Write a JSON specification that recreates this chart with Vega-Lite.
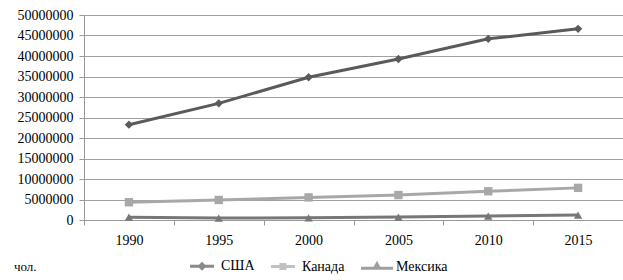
{
  "$schema": "https://vega.github.io/schema/vega-lite/v6.json",
  "autosize": "none",
  "width": 539,
  "height": 205,
  "padding": {"left": 84, "top": 15, "right": 0, "bottom": 60},
  "config": {
    "font": "Liberation Serif",
    "view": {"stroke": null},
    "axis": {"labelFont": "Liberation Serif", "labelFontSize": 14, "labelColor": "#000"}
  },
  "title": {
    "text": "чол.",
    "orient": "bottom",
    "frame": "group",
    "anchor": "start",
    "dx": -70,
    "dy": -38,
    "offset": 24,
    "fontSize": 13,
    "fontWeight": "normal",
    "font": "Liberation Serif",
    "color": "#000"
  },
  "data": {
    "values": [
      {"year": "1990", "country": "США", "value": 23251026},
      {"year": "1995", "country": "США", "value": 28451053},
      {"year": "2000", "country": "США", "value": 34814053},
      {"year": "2005", "country": "США", "value": 39258293},
      {"year": "2010", "country": "США", "value": 44183643},
      {"year": "2015", "country": "США", "value": 46627102},
      {"year": "1990", "country": "Канада", "value": 4333318},
      {"year": "1995", "country": "Канада", "value": 4888000},
      {"year": "2000", "country": "Канада", "value": 5511914},
      {"year": "2005", "country": "Канада", "value": 6078998},
      {"year": "2010", "country": "Канада", "value": 7011226},
      {"year": "2015", "country": "Канада", "value": 7835502},
      {"year": "1990", "country": "Мексика", "value": 701088},
      {"year": "1995", "country": "Мексика", "value": 458000},
      {"year": "2000", "country": "Мексика", "value": 538051},
      {"year": "2005", "country": "Мексика", "value": 712487},
      {"year": "2010", "country": "Мексика", "value": 969538},
      {"year": "2015", "country": "Мексика", "value": 1193155}
    ]
  },
  "encoding": {
    "x": {
      "field": "year", "type": "ordinal",
      "scale": {"paddingInner": 0, "paddingOuter": 0},
      "axis": {
        "title": null, "labelAngle": 0, "tickBand": "extent",
        "domainColor": "#999", "tickColor": "#999", "tickSize": 5,
        "labelPadding": 8, "grid": false
      }
    },
    "y": {
      "field": "value", "type": "quantitative",
      "scale": {"domain": [0, 50000000], "nice": false},
      "axis": {
        "title": null, "values": [0,5000000,10000000,15000000,20000000,25000000,30000000,35000000,40000000,45000000,50000000],
        "format": "d", "grid": true, "gridColor": "#a0a0a0", "gridWidth": 1,
        "domainColor": "#999", "tickColor": "#999", "tickSize": 5, "labelPadding": 6
      }
    }
  },
  "resolve": {"scale": {"color": "independent", "shape": "independent"}},
  "layer": [
    {
      "mark": {"type": "line", "strokeWidth": 3},
      "encoding": {
        "color": {
          "field": "country", "type": "nominal",
          "scale": {"domain": ["США", "Канада", "Мексика"], "range": ["#5a5a5a", "#a8a8a8", "#777777"]},
          "legend": null
        }
      }
    },
    {
      "transform": [{"filter": "datum.country === 'США'"}],
      "mark": {"type": "point", "filled": true, "opacity": 1, "size": 70, "shape": "diamond"},
      "encoding": {"color": {"field": "country", "type": "nominal",
        "scale": {"domain": ["США", "Канада", "Мексика"], "range": ["#5a5a5a", "#a8a8a8", "#777777"]}, "legend": null}}
    },
    {
      "transform": [{"filter": "datum.country === 'Канада'"}],
      "mark": {"type": "point", "filled": true, "opacity": 1, "size": 70, "shape": "square"},
      "encoding": {"color": {"field": "country", "type": "nominal",
        "scale": {"domain": ["США", "Канада", "Мексика"], "range": ["#5a5a5a", "#a8a8a8", "#777777"]}, "legend": null}}
    },
    {
      "transform": [{"filter": "datum.country === 'Мексика'"}],
      "mark": {"type": "point", "filled": true, "opacity": 1, "size": 70, "shape": "triangle-up"},
      "encoding": {"color": {"field": "country", "type": "nominal",
        "scale": {"domain": ["США", "Канада", "Мексика"], "range": ["#5a5a5a", "#a8a8a8", "#777777"]}, "legend": null}}
    },
    {
      "transform": [{"filter": "datum.value < 0"}],
      "mark": {"type": "point", "filled": false, "strokeWidth": 3},
      "encoding": {
        "color": {
          "field": "country", "type": "nominal",
          "scale": {"domain": ["США", "Канада", "Мексика"], "range": ["#5a5a5a", "#a8a8a8", "#777777"]},
          "legend": {
            "title": null, "orient": "none", "legendX": 111, "legendY": 244,
            "direction": "horizontal", "symbolSize": 64, "symbolStrokeWidth": 3,
            "labelFont": "Liberation Serif", "labelFontSize": 14, "labelColor": "#000",
            "labelOffset": 12, "columnPadding": 10
          }
        },
        "shape": {
          "field": "country", "type": "nominal",
          "scale": {
            "domain": ["США", "Канада", "Мексика"],
            "range": [
              "M-3,0H3M0,-0.6L0.6,0L0,0.6L-0.6,0Z",
              "M-3,0H3M-0.5,-0.5H0.5V0.5H-0.5Z",
              "M-4,0.4H4M0,-0.7L0.6,0.4H-0.6Z"
            ]
          },
          "legend": {
            "title": null, "orient": "none", "legendX": 111, "legendY": 244,
            "direction": "horizontal", "symbolSize": 64, "symbolStrokeWidth": 3,
            "labelFont": "Liberation Serif", "labelFontSize": 14, "labelColor": "#000",
            "labelOffset": 12, "columnPadding": 10
          }
        }
      }
    }
  ]
}
